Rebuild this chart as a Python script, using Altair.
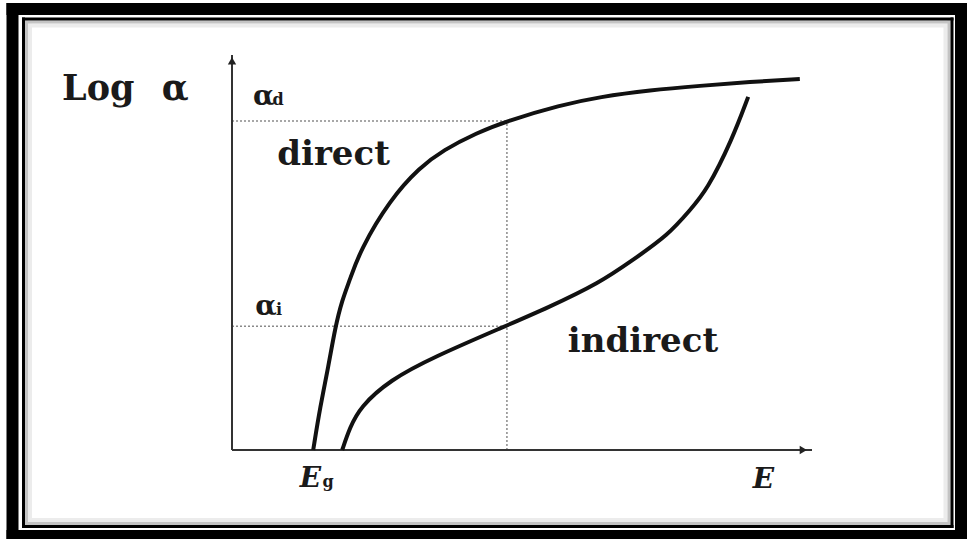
import altair as alt
import pandas as pd

# Schematic absorption edges: photon energy E (arbitrary units) vs log(alpha)
direct_E = [1.40, 1.52, 1.66, 1.78, 1.90, 2.03, 2.21, 2.72, 3.24, 3.64, 4.22,
            4.74, 5.66, 6.34, 7.21, 8.07, 8.93, 9.79]
direct_L = [0.00, 1.09, 2.10, 3.11, 3.80, 4.30, 5.06, 6.33, 7.16, 7.59, 8.03,
            8.33, 8.73, 8.94, 9.11, 9.22, 9.32, 9.39]

indirect_E = [1.90, 2.03, 2.21, 2.72, 3.47, 4.67, 5.43, 6.34, 6.91, 7.52, 7.90,
              8.19, 8.62, 8.90]
indirect_L = [0.00, 0.56, 1.09, 1.77, 2.35, 3.11, 3.59, 4.23, 4.81, 5.44, 6.08,
              6.58, 7.85, 8.94]

# reference levels at the same energy
E_mark = 4.74
alpha_d = 8.33
alpha_i = 3.13

INK = "#111111"
SERIF = "DejaVu Serif"

# plot area placement inside the 967x539 canvas
PAD_L, PAD_T, PLOT_W, PLOT_H = 232, 55, 580, 395

xs = alt.Scale(domain=[0, 10])
ys = alt.Scale(domain=[0, 10])

curves = pd.concat([
    pd.DataFrame({"E": direct_E, "L": direct_L, "kind": "direct"}),
    pd.DataFrame({"E": indirect_E, "L": indirect_L, "kind": "indirect"}),
])

one = pd.DataFrame({"k": [0]})


def border(x, x2, y, y2, color, width):
    """Four rules forming a rectangle, given in canvas pixels."""
    x, x2, y, y2 = x - PAD_L, x2 - PAD_L, y - PAD_T, y2 - PAD_T
    base = alt.Chart(one).mark_rule(color=color, strokeWidth=width, strokeCap="square")
    return [
        base.encode(x=alt.value(x), x2=alt.value(x2), y=alt.value(y)),
        base.encode(x=alt.value(x), x2=alt.value(x2), y=alt.value(y2)),
        base.encode(x=alt.value(x), y=alt.value(y), y2=alt.value(y2)),
        base.encode(x=alt.value(x2), y=alt.value(y), y2=alt.value(y2)),
    ]


# picture frame: thick black border, thin inner line and a soft shadow
frame = (border(30, 945.5, 25.5, 520, "#ececec", 4)
         + border(26.5, 949, 22, 523.5, "#c4c4c4", 3)
         + border(23.5, 952, 19, 526.5, "black", 3)
         + border(12.5, 961, 9, 536, "black", 12))

# axes with arrow heads
axes_df = pd.DataFrame({"x": [0, 0], "x2": [0, 10], "y": [0, 0], "y2": [10, 0]})
axes = alt.Chart(axes_df).mark_rule(color="#333333", strokeWidth=2).encode(
    x=alt.X("x:Q", scale=xs, axis=None), x2="x2:Q",
    y=alt.Y("y:Q", scale=ys, axis=None), y2="y2:Q")
arrow_up = alt.Chart(pd.DataFrame({"x": [0], "y": [9.85]})).mark_point(
    shape="triangle-up", filled=True, color="#222222", size=70, opacity=1).encode(
    x=alt.X("x:Q", scale=xs, axis=None), y=alt.Y("y:Q", scale=ys, axis=None))
arrow_right = alt.Chart(pd.DataFrame({"x": [9.85], "y": [0]})).mark_point(
    shape="triangle-right", filled=True, color="#222222", size=70, opacity=1).encode(
    x=alt.X("x:Q", scale=xs, axis=None), y=alt.Y("y:Q", scale=ys, axis=None))

# dotted guides from the axes to the curves
guides_df = pd.DataFrame({
    "x": [0, 0, E_mark], "x2": [E_mark, E_mark, E_mark],
    "y": [alpha_d, alpha_i, 0], "y2": [alpha_d, alpha_i, alpha_d]})
guides = alt.Chart(guides_df).mark_rule(color="#8a8a8a", strokeWidth=1.5, strokeDash=[2, 2]).encode(
    x=alt.X("x:Q", scale=xs, axis=None), x2="x2:Q",
    y=alt.Y("y:Q", scale=ys, axis=None), y2="y2:Q")

lines = alt.Chart(curves).mark_line(color=INK, strokeWidth=4, interpolate="basis").encode(
    x=alt.X("E:Q", scale=xs, axis=None), y=alt.Y("L:Q", scale=ys, axis=None),
    detail="kind:N")


def label(txt, x, y, size, style="normal", weight="bold"):
    return alt.Chart(pd.DataFrame({"t": [txt], "x": [x], "y": [y]})).mark_text(
        align="left", baseline="alphabetic", font=SERIF, fontSize=size,
        fontStyle=style, fontWeight=weight, color="#1a1a1a").encode(
        x=alt.X("x:Q", scale=xs, axis=None), y=alt.Y("y:Q", scale=ys, axis=None),
        text="t:N")


texts = [
    label("Log", -2.93, 8.86, 35),
    label("α", -1.21, 8.86, 35),
    label("α", 0.36, 8.73, 28),
    label("d", 0.70, 8.73, 16),
    label("direct", 0.78, 7.22, 34),
    label("α", 0.40, 3.42, 28),
    label("i", 0.76, 3.42, 16),
    label("indirect", 5.79, 2.48, 34),
    label("E", 1.17, -0.94, 28, style="italic"),
    label("g", 1.56, -0.94, 16),
    label("E", 8.98, -0.96, 28, style="italic"),
]

chart = alt.layer(
    *frame, guides, axes, arrow_up, arrow_right, lines, *texts
).properties(
    width=PLOT_W, height=PLOT_H,
    padding={"left": PAD_L, "top": PAD_T,
             "right": 967 - PAD_L - PLOT_W, "bottom": 539 - PAD_T - PLOT_H},
    autosize=alt.AutoSizeParams(type="none"),
    background="white",
).configure_view(strokeWidth=0)

chart.save("out.html", embed_options={"renderer": "svg", "actions": False})
